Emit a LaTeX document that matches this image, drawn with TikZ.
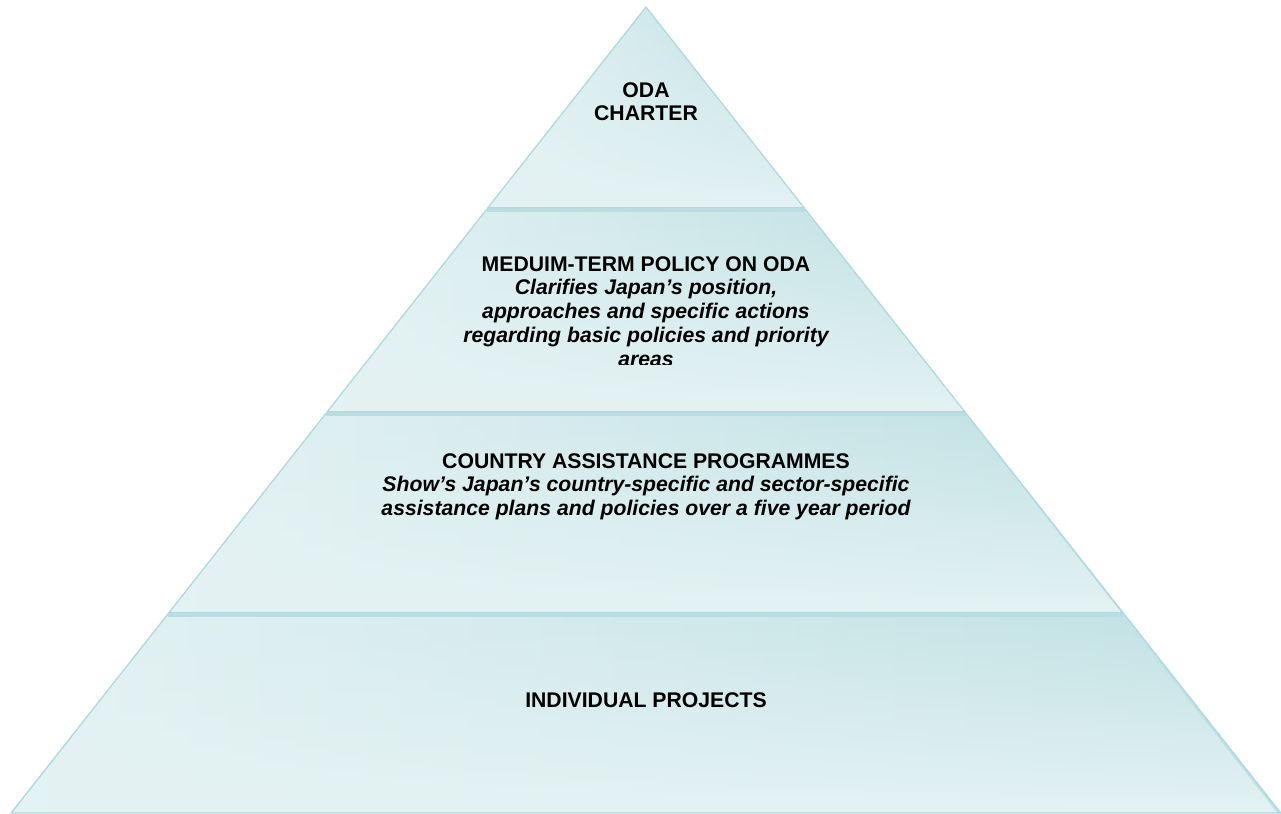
\documentclass[tikz,border=0pt]{standalone}
\usepackage{fontspec}
\setmainfont{Liberation Sans}
\usetikzlibrary{fadings}

\definecolor{pyrLight}{HTML}{E4F2F3}
\definecolor{pyrDark}{HTML}{BEE0E3}
\definecolor{pyrEdge}{HTML}{A9D8DD}
\definecolor{pyrBand}{HTML}{B9DDE1}

\begin{document}
\begin{tikzpicture}[x=1pt,y=-1pt,
  layer/.style={left color=pyrLight,right color=pyrDark},
  tier/.style={align=center,inner sep=0pt,anchor=north,
    font=\fontsize{21.2}{23.8}\selectfont\bfseries}]

%Define pyramid parameters
\def\apx{646}      %x of the apex.
\def\apy{7}        %y of the apex (measured downwards).
\def\slp{0.7876}   %half-width gained per unit of height.
\def\trap{({\apx-\slp*(\ya-\apy)},\ya) -- ({\apx+\slp*(\ya-\apy)},\ya)
  -- ({\apx+\slp*(\yb-\apy)},\yb) -- ({\apx-\slp*(\yb-\apy)},\yb) -- cycle}

\useasboundingbox (0,0) rectangle (1281,813);

% Layers, top to bottom
\foreach \ya/\yb in {7/208,208/412,412/613,613/813}{
  \path[layer] \trap;
  \fill[pyrLight,path fading=north] \trap;
  \draw[pyrEdge,line width=1.2pt,line join=round] \trap;
}

% Darker strip along the top of each lower layer
\foreach \ya in {210,414,615}{
  \draw[pyrBand,line width=3.5pt] ({\apx-\slp*(\ya-\apy)+1},\ya) -- ({\apx+\slp*(\ya-\apy)-1},\ya);
}

% Labels
\node[tier] (charter) at (646,82) {ODA\\CHARTER};

\begin{scope}
\clip (300,220) rectangle (1000,364);
\node[tier] (midterm) at (646,256) {MEDUIM-TERM POLICY ON ODA\\
  \itshape Clarifies Japan’s position,\\
  \itshape approaches and specific actions\\
  \itshape regarding basic policies and priority\\
  \itshape areas};
\end{scope}

\node[tier] (country) at (646,453) {COUNTRY ASSISTANCE PROGRAMMES\\
  \itshape Show’s Japan’s country-specific and sector-specific\\
  \itshape assistance plans and policies over a five year period};

\node[tier] (projects) at (646,692) {INDIVIDUAL PROJECTS};

\end{tikzpicture}
\end{document}
